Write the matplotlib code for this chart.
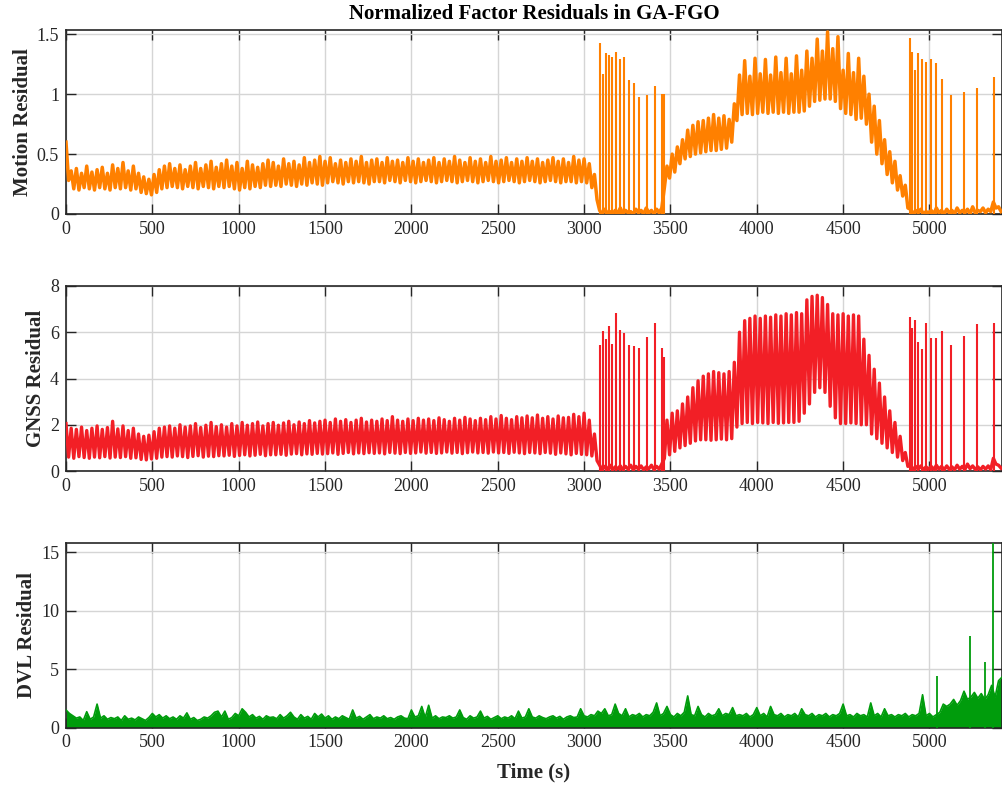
import numpy as np
import matplotlib
matplotlib.use("Agg")
import matplotlib.pyplot as plt

plt.rcParams['font.family'] = ['Liberation Serif', 'DejaVu Serif']

# ---------------- data ----------------
STEP = 15  # s between consecutive samples (peak / trough alternate)

# Motion residual: peaks at t = 0, 30, 60, ...; troughs at t = 15, 45, ...
motion_hi = [
    0.60, 0.36, 0.38, 0.34, 0.40, 0.35, 0.37, 0.39, 0.34, 0.41,
    0.38, 0.43, 0.36, 0.40, 0.34, 0.31, 0.29, 0.33, 0.37, 0.40,
    0.42, 0.38, 0.41, 0.37, 0.40, 0.43, 0.38, 0.41, 0.44, 0.39,
    0.42, 0.45, 0.40, 0.43, 0.38, 0.44, 0.41, 0.39, 0.42, 0.45,
    0.43, 0.40, 0.46, 0.42, 0.44, 0.41, 0.47, 0.43, 0.45, 0.48,
    0.44, 0.47, 0.42, 0.45, 0.43, 0.46, 0.44, 0.48, 0.43, 0.45,
    0.46, 0.43, 0.47, 0.44, 0.45, 0.43, 0.47, 0.44, 0.46, 0.43,
    0.45, 0.47, 0.43, 0.46, 0.44, 0.48, 0.45, 0.43, 0.47, 0.44,
    0.46, 0.43, 0.48, 0.44, 0.45, 0.47, 0.43, 0.46, 0.44, 0.47,
    0.44, 0.46, 0.43, 0.45, 0.47, 0.44, 0.46, 0.43, 0.48, 0.45,
    0.46, 0.42, 0.33, 0.03, 0.04, 0.02, 0.03, 0.05, 0.03, 0.02,
    0.04, 0.03, 0.05, 0.03, 0.04, 0.05, 0.40, 0.50, 0.56, 0.62,
    0.70, 0.74, 0.77, 0.78, 0.80, 0.83, 0.80, 0.82, 0.79, 0.92,
    1.16, 1.28, 1.15, 1.30, 1.17, 1.29, 1.16, 1.31, 1.18, 1.30,
    1.17, 1.32, 1.20, 1.36, 1.30, 1.46, 1.36, 1.52, 1.38, 1.48,
    1.20, 1.34, 1.18, 1.30, 1.15, 1.00, 0.90, 0.78, 0.62, 0.52,
    0.44, 0.32, 0.24, 0.04, 0.03, 0.04, 0.02, 0.03, 0.05, 0.03,
    0.04, 0.03, 0.05, 0.03, 0.04, 0.06, 0.03, 0.05, 0.04, 0.10,
    0.06]
motion_lo = [
    0.28, 0.21, 0.20, 0.22, 0.21, 0.20, 0.22, 0.21, 0.20, 0.22,
    0.21, 0.22, 0.20, 0.21, 0.18, 0.17, 0.16, 0.18, 0.21, 0.22,
    0.23, 0.22, 0.21, 0.23, 0.22, 0.21, 0.23, 0.22, 0.21, 0.23,
    0.22, 0.23, 0.21, 0.20, 0.22, 0.21, 0.23, 0.22, 0.24, 0.23,
    0.24, 0.23, 0.25, 0.24, 0.23, 0.25, 0.24, 0.26, 0.25, 0.24,
    0.26, 0.27, 0.26, 0.25, 0.27, 0.26, 0.27, 0.26, 0.25, 0.27,
    0.27, 0.26, 0.28, 0.27, 0.26, 0.28, 0.27, 0.26, 0.27, 0.28,
    0.27, 0.26, 0.27, 0.28, 0.27, 0.26, 0.27, 0.28, 0.27, 0.26,
    0.27, 0.28, 0.27, 0.26, 0.27, 0.28, 0.27, 0.26, 0.27, 0.28,
    0.27, 0.26, 0.27, 0.28, 0.27, 0.26, 0.27, 0.27, 0.26, 0.27,
    0.26, 0.22, 0.12, 0.00, 0.01, 0.00, 0.01, 0.00, 0.01, 0.00,
    0.01, 0.00, 0.01, 0.00, 0.01, 0.22, 0.30, 0.35, 0.42, 0.46,
    0.48, 0.50, 0.51, 0.52, 0.53, 0.53, 0.54, 0.55, 0.60, 0.78,
    0.83, 0.84, 0.83, 0.84, 0.85, 0.84, 0.85, 0.84, 0.85, 0.84,
    0.85, 0.85, 0.86, 0.90, 0.94, 0.95, 0.96, 0.96, 0.94, 0.88,
    0.84, 0.83, 0.79, 0.80, 0.75, 0.60, 0.50, 0.42, 0.33, 0.26,
    0.20, 0.15, 0.05, 0.00, 0.01, 0.00, 0.01, 0.00, 0.01, 0.00,
    0.01, 0.00, 0.01, 0.01, 0.00, 0.01, 0.02, 0.01, 0.02, 0.05,
    0.02]

# GNSS residual
gnss_hi = [
    2.05, 1.85, 1.80, 1.90, 1.75, 1.85, 1.95, 1.80, 1.88, 2.15,
    1.82, 1.95, 1.75, 1.85, 1.60, 1.50, 1.55, 1.70, 1.85, 1.90,
    1.95, 1.85, 2.00, 1.90, 1.95, 2.05, 1.88, 1.98, 2.10, 1.92,
    2.00, 1.90, 2.05, 1.95, 2.10, 1.98, 2.05, 2.12, 1.95, 2.05,
    2.10, 1.98, 2.08, 2.15, 2.00, 2.12, 2.05, 2.18, 2.08, 2.15,
    2.20, 2.10, 2.25, 2.15, 2.22, 2.10, 2.20, 2.28, 2.12, 2.20,
    2.15, 2.25, 2.18, 2.35, 2.20, 2.15, 2.25, 2.18, 2.28, 2.20,
    2.25, 2.18, 2.30, 2.22, 2.15, 2.28, 2.20, 2.32, 2.25, 2.18,
    2.28, 2.22, 2.35, 2.25, 2.40, 2.28, 2.22, 2.35, 2.30, 2.38,
    2.30, 2.42, 2.28, 2.35, 2.25, 2.38, 2.30, 2.32, 2.45, 2.35,
    2.50, 2.20, 1.60, 0.25, 0.20, 0.25, 0.18, 0.22, 0.20, 0.25,
    0.20, 0.22, 0.18, 0.25, 0.20, 0.30, 2.20, 2.50, 2.60, 2.90,
    3.20, 3.60, 3.90, 4.10, 4.20, 4.30, 4.25, 4.20, 4.30, 4.70,
    6.00, 6.50, 6.60, 6.70, 6.60, 6.70, 6.65, 6.75, 6.70, 6.80,
    6.75, 6.85, 6.80, 7.40, 7.55, 7.60, 7.50, 7.20, 6.80, 6.75,
    6.80, 6.70, 6.75, 6.70, 5.70, 5.00, 4.40, 3.80, 3.20, 2.60,
    2.10, 1.50, 0.80, 0.25, 0.20, 0.22, 0.18, 0.20, 0.25, 0.20,
    0.22, 0.18, 0.25, 0.20, 0.30, 0.22, 0.18, 0.20, 0.22, 0.55,
    0.25]
gnss_lo = [
    0.60, 0.55, 0.62, 0.58, 0.55, 0.60, 0.57, 0.62, 0.56, 0.60,
    0.58, 0.62, 0.55, 0.57, 0.50, 0.48, 0.52, 0.55, 0.60, 0.62,
    0.60, 0.65, 0.62, 0.58, 0.63, 0.66, 0.60, 0.64, 0.62, 0.66,
    0.65, 0.68, 0.63, 0.67, 0.70, 0.65, 0.68, 0.72, 0.66, 0.70,
    0.70, 0.72, 0.68, 0.73, 0.75, 0.70, 0.74, 0.72, 0.76, 0.73,
    0.75, 0.78, 0.72, 0.76, 0.80, 0.74, 0.78, 0.75, 0.79, 0.76,
    0.78, 0.74, 0.80, 0.77, 0.75, 0.80, 0.76, 0.78, 0.82, 0.77,
    0.80, 0.76, 0.78, 0.82, 0.77, 0.80, 0.75, 0.79, 0.82, 0.78,
    0.80, 0.77, 0.82, 0.78, 0.80, 0.76, 0.81, 0.78, 0.75, 0.80,
    0.78, 0.75, 0.80, 0.77, 0.72, 0.78, 0.74, 0.70, 0.76, 0.72,
    0.70, 0.65, 0.45, 0.05, 0.08, 0.05, 0.10, 0.06, 0.08, 0.05,
    0.08, 0.05, 0.10, 0.06, 0.08, 0.55, 0.70, 0.85, 1.00, 1.10,
    1.20, 1.30, 1.35, 1.35, 1.33, 1.35, 1.38, 1.35, 1.40, 1.90,
    2.05, 2.10, 2.05, 2.10, 2.08, 2.05, 2.10, 2.06, 2.08, 2.10,
    2.10, 2.15, 2.50, 2.90, 3.40, 3.60, 3.40, 2.80, 2.30, 2.05,
    2.05, 2.08, 2.05, 2.00, 2.00, 1.60, 1.40, 1.20, 1.00, 0.80,
    0.60, 0.45, 0.20, 0.05, 0.08, 0.05, 0.07, 0.06, 0.08, 0.05,
    0.07, 0.05, 0.08, 0.06, 0.10, 0.07, 0.05, 0.08, 0.06, 0.30,
    0.12]

# isolated spikes during the GNSS outage windows (shared time stamps)
spike_t = [3090, 3107, 3125, 3144, 3163, 3185, 3208, 3231, 3262, 3287,
           3318, 3364, 3409, 3449, 3465,
           4886, 4900, 4919, 4936, 4958, 4981, 5006, 5037, 5073, 5126,
           5199, 5276, 5373]
motion_spike = [1.43, 1.17, 1.34, 1.33, 1.31, 1.35, 1.29, 1.31, 1.12, 1.09,
                0.98, 0.99, 1.07, 1.00, 1.00,
                1.47, 1.35, 1.20, 1.34, 1.29, 1.27, 1.29, 1.26, 1.13, 0.99,
                1.02, 1.05, 1.14]
gnss_spike = [5.44, 6.05, 5.72, 6.27, 5.49, 6.84, 6.09, 5.95, 5.44, 5.40,
              5.34, 5.78, 6.38, 5.30, 4.94,
              6.67, 6.20, 6.54, 5.60, 5.26, 6.40, 5.76, 5.76, 6.06, 5.44,
              5.85, 6.34, 6.41]

# DVL residual, one value every 20 s
DVL_STEP = 20
dvl = [
    1.5, 1.2, 1.0, 0.8, 0.9, 0.6, 1.35, 0.7, 0.9, 2.0, 0.8, 1.0, 0.7, 0.85, 0.75,
    0.9, 0.6, 1.0, 0.7, 0.8, 0.65, 0.9, 0.75, 0.6, 0.85, 1.2, 0.9, 1.1, 0.8, 1.0,
    0.75, 0.9, 0.7, 1.0, 0.8, 1.25, 0.7, 0.85, 0.6, 0.7, 0.9, 0.8, 1.0, 1.3, 1.4,
    0.9, 1.4, 0.7, 0.85, 1.2, 1.0, 1.6, 1.3, 0.9, 1.1, 0.8, 0.95, 0.7, 1.0, 0.85,
    0.9, 0.75, 1.1, 0.8, 1.0, 1.3, 0.9, 0.7, 1.1, 0.8, 0.95, 0.7, 1.2, 0.9, 1.15,
    0.8, 1.0, 0.7, 0.9, 0.75, 1.0, 0.85, 0.7, 1.5, 0.8, 0.95, 0.7, 0.9, 1.1, 0.75,
    0.9, 0.8, 1.0, 0.75, 0.85, 0.7, 0.9, 1.0, 0.8, 0.75, 1.5, 0.9, 1.0, 1.8, 0.85,
    1.9, 0.8, 1.0, 0.75, 0.9, 0.85, 1.0, 0.8, 0.9, 1.5, 0.85, 0.7, 1.0, 0.8, 0.9,
    1.4, 0.8, 0.95, 0.7, 0.85, 1.0, 0.75, 0.9, 0.8, 1.0, 0.75, 1.4, 0.8, 0.9, 1.6,
    0.9, 0.8, 1.0, 0.85, 0.75, 0.9, 1.0, 0.8, 0.95, 0.7, 0.9, 1.0, 0.85, 0.9, 1.6,
    1.0, 0.9, 1.1, 1.0, 1.4, 1.2, 1.6, 1.0, 1.1, 2.0, 1.2, 1.0, 1.6, 0.9, 1.1,
    1.0, 1.2, 0.9, 1.1, 1.0, 1.3, 2.1, 1.0, 1.2, 1.8, 1.1, 0.9, 1.2, 1.0, 1.3,
    2.7, 1.1, 1.0, 1.8, 1.1, 0.9, 1.2, 1.0, 1.1, 1.6, 1.0, 1.2, 1.1, 1.7, 1.0,
    1.1, 1.0, 1.2, 0.9, 1.1, 1.7, 1.0, 1.2, 0.9, 1.8, 1.1, 1.0, 1.2, 0.9, 1.1,
    1.0, 1.2, 0.9, 1.6, 1.1, 1.0, 1.2, 0.9, 1.1, 1.0, 1.2, 0.9, 1.1, 1.0, 1.2,
    2.0, 1.0, 1.1, 0.9, 1.2, 1.0, 1.1, 0.9, 2.1, 1.0, 1.2, 0.9, 1.6, 1.0, 1.1,
    0.9, 1.1, 1.0, 1.2, 0.9, 1.1, 1.0, 1.2, 2.8, 1.0, 1.2, 0.9, 1.1, 1.3, 2.0,
    1.8, 2.0, 2.4, 1.9, 2.3, 3.1, 2.4, 2.6, 3.0, 2.5, 2.9, 2.4, 2.8, 3.6, 2.6,
    4.0, 4.3]
dvl_spike_t = [5045, 5237, 5321, 5367]
dvl_spike = [4.4, 7.8, 5.6, 15.77]

x_ticks = [0, 500, 1000, 1500, 2000, 2500, 3000, 3500, 4000, 4500, 5000]
motion_yticks = [0, 0.5, 1, 1.5]
motion_yticklabels = ['0', '0.5', '1', '1.5']
gnss_yticks = [0, 2, 4, 6, 8]
dvl_yticks = [0, 5, 10, 15]

title = 'Normalized Factor Residuals in GA-FGO'
xlabel = 'Time (s)'
ylabels = ['Motion Residual', 'GNSS Residual', 'DVL Residual']

# ---------------- styling ----------------
C_MOTION = '#ff8000'
C_GNSS = '#f21f26'
C_DVL = '#009c0c'
X_MAX = 5420
Y_MAX = [1.536, 8, 15.77]


def zigzag(hi, lo):
    v = np.empty(2 * len(hi))
    v[0::2] = hi
    v[1::2] = lo
    t = np.arange(v.size) * STEP
    return t, v


W, H = 1003, 785
fig = plt.figure(figsize=(W / 100, H / 100), dpi=100)
left, width = 66 / W, 936 / W
boxes = [(30, 214), (286, 471), (543, 727.5)]
axes = []
for top, bot in boxes:
    ax = fig.add_axes([left, 1 - bot / H, width, (bot - top) / H])
    axes.append(ax)

ax1, ax2, ax3 = axes

t, v = zigzag(motion_hi, motion_lo)
ax1.plot(t, v, color=C_MOTION, lw=2.5, zorder=3, solid_joinstyle='round')
ax1.vlines(spike_t, 0, motion_spike, color=C_MOTION, lw=1.5, zorder=3)

t, v = zigzag(gnss_hi, gnss_lo)
ax2.plot(t, v, color=C_GNSS, lw=2.4, zorder=3, solid_joinstyle='round')
ax2.vlines(spike_t, 0, gnss_spike, color=C_GNSS, lw=1.5, zorder=3)

td = np.arange(len(dvl)) * DVL_STEP
ax3.fill_between(td, 0, dvl, color=C_DVL, lw=0, zorder=2)
ax3.plot(td, dvl, color=C_DVL, lw=1.2, zorder=3)
ax3.vlines(dvl_spike_t, 0, dvl_spike, color=C_DVL, lw=1.3, zorder=3)

yticks = [motion_yticks, gnss_yticks, dvl_yticks]
label_x = [-0.035, -0.021, -0.031]
for i, ax in enumerate(axes):
    ax.set_xlim(0, X_MAX)
    ax.set_ylim(0, Y_MAX[i])
    ax.set_xticks(x_ticks)
    ax.set_xticklabels([str(x) for x in x_ticks])
    ax.set_yticks(yticks[i])
    if i == 0:
        ax.set_yticklabels(motion_yticklabels)
    ax.grid(True, color='#d5d5d5', lw=1.0)
    ax.set_axisbelow(True)
    ax.tick_params(direction='in', top=True, right=True, length=7, width=1.0,
                   labelsize=13, colors='#262626', pad=5)
    for s in ax.spines.values():
        s.set_linewidth(1.2)
        s.set_color('#262626')
    ax.set_ylabel(ylabels[i], fontsize=15, fontweight='bold', color='#262626')
    ax.yaxis.set_label_coords(label_x[i], 0.5)

fig.text(534 / W, 1 - 14 / H, title, ha='center', va='center',
         fontsize=15, fontweight='bold', color='#000000')
fig.text(534 / W, 1 - 772 / H, xlabel, ha='center', va='center',
         fontsize=15, fontweight='bold', color='#262626')

fig.savefig('out.png', dpi=100)
